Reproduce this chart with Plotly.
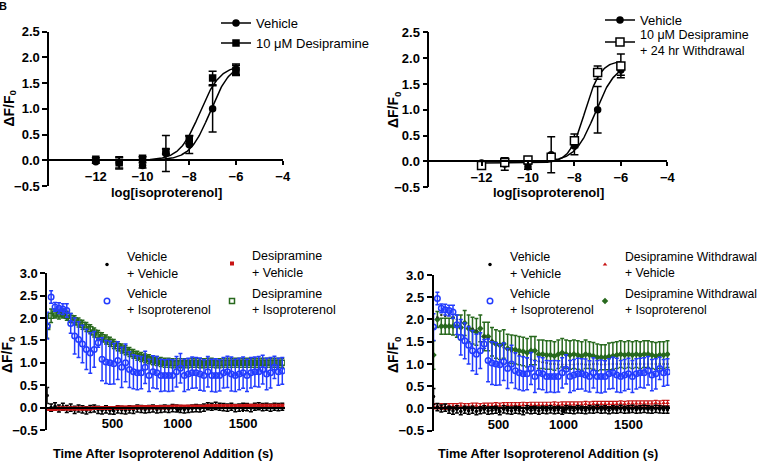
import plotly.graph_objects as go
import numpy as np

W, H = 763, 463
FONT = "Liberation Sans, Arial, sans-serif"

# ---------------- dose-response data (top panels) ----------------
conc = [-12, -11, -10, -9, -8, -7, -6]
veh_resp = [-0.03, -0.05, -0.10, 0.13, 0.30, 1.00, 1.77]
veh_err = [0.03, 0.12, 0.05, 0.35, 0.17, 0.45, 0.10]
desi_resp = [0.02, -0.05, 0.04, 0.17, 0.40, 1.60, 1.75]
desi_err = [0.03, 0.10, 0.03, 0.05, 0.08, 0.13, 0.10]
wd_resp = [-0.08, -0.02, 0.03, 0.08, 0.40, 1.72, 1.85]
wd_err = [0.04, 0.03, 0.03, 0.05, 0.13, 0.13, 0.23]

# fitted sigmoid parameters: bottom, top, logEC50, hill
veh_fit = (0.0, 1.90, -7.10, 1.0)
desi_fit = (0.0, 1.85, -7.55, 1.0)
wd_fit = (-0.03, 1.95, -7.55, 1.3)

# ---------------- time-course data (bottom panels) ----------------
time_s = list(range(0, 1801, 30))

veh_iso = [1.83, 2.47, 2.25, 2.22, 2.20, 2.17, 1.88, 1.60, 1.52, 1.42,
           1.30, 1.22, 1.30, 1.45, 1.08, 1.02, 1.00, 0.98, 1.05, 0.90,
           1.00, 0.85, 0.80, 0.78, 0.78, 0.90, 0.72, 0.80, 0.78, 0.72,
           0.72, 0.72, 0.72, 0.80, 0.88, 0.72, 0.75, 0.78, 0.78, 0.75,
           0.72, 0.80, 0.72, 0.72, 0.72, 0.78, 0.80, 0.75, 0.72, 0.75,
           0.78, 0.72, 0.78, 0.80, 0.80, 0.85, 0.75, 0.78, 0.90, 0.80,
           0.82]
veh_iso_err = [0.30, 0.14, 0.10, 0.12, 0.12, 0.15, 0.22, 0.40, 0.40, 0.42,
               0.45, 0.45, 0.40, 0.10, 0.48, 0.48, 0.48, 0.45, 0.42, 0.45,
               0.42, 0.40, 0.38, 0.38, 0.36, 0.36, 0.36, 0.36, 0.36, 0.36,
               0.35, 0.36, 0.35, 0.34, 0.33, 0.36, 0.35, 0.35, 0.34, 0.36,
               0.35, 0.34, 0.36, 0.37, 0.35, 0.34, 0.35, 0.38, 0.36, 0.35,
               0.35, 0.36, 0.34, 0.33, 0.34, 0.32, 0.35, 0.34, 0.25, 0.30,
               0.30]

desi_iso = [1.80, 2.05, 2.10, 2.08, 2.10, 2.05, 2.00, 1.95, 1.90, 1.85,
            1.80, 1.75, 1.68, 1.62, 1.57, 1.52, 1.47, 1.42, 1.37, 1.32,
            1.28, 1.24, 1.20, 1.16, 1.13, 1.10, 1.08, 1.06, 1.04, 1.02,
            1.00, 1.00, 0.99, 0.99, 0.99, 0.99, 0.99, 1.00, 1.00, 0.99,
            0.99, 1.00, 1.00, 0.99, 0.99, 1.00, 1.00, 1.00, 1.00, 1.00,
            1.00, 1.00, 1.00, 1.00, 1.00, 1.00, 1.00, 1.00, 1.00, 1.00,
            1.00]
desi_iso_err = [0.25, 0.15] + [0.10] * 59

veh_veh_c = [0.27, 0.00, 0.03, -0.02, 0.02, -0.03, 0.00, -0.05, -0.02, -0.04,
             -0.06, -0.03, -0.02, -0.05, -0.06, -0.04, -0.06, -0.07, -0.04, -0.05,
             -0.06, -0.04, -0.05, -0.02, -0.03, -0.04, -0.03, -0.02, -0.04, -0.03,
             -0.02, -0.03, -0.01, -0.02, -0.03, -0.04, -0.03, -0.02, -0.01, -0.02,
             0.00, 0.03, 0.02, 0.04, 0.02, 0.01, 0.00, 0.02, -0.01, 0.00,
             0.02, 0.01, -0.01, 0.02, 0.03, 0.01, 0.02, 0.00, 0.02, 0.01,
             0.02]
veh_veh_d = [0.27, 0.03, 0.00, 0.02, -0.03, -0.05, -0.02, -0.06, -0.03, -0.05,
             -0.03, -0.06, -0.04, -0.02, -0.05, -0.04, -0.03, -0.06, -0.02, -0.04,
             -0.05, -0.03, -0.04, -0.06, -0.02, -0.04, -0.03, -0.05, -0.03, -0.04,
             -0.02, -0.04, -0.03, -0.05, -0.02, -0.03, -0.04, -0.02, -0.03, -0.04,
             -0.02, -0.03, -0.01, -0.03, -0.02, -0.04, -0.02, -0.03, -0.01, -0.03,
             -0.02, -0.01, -0.03, -0.02, -0.01, -0.02, -0.03, -0.01, -0.02, -0.03,
             -0.03]
veh_veh_err = [0.18] + [0.08] * 60

desi_veh = [-0.03, -0.03, -0.03, -0.02, -0.02, -0.02, -0.02, -0.02, -0.02, -0.02,
            -0.02, -0.02, -0.01, -0.01, -0.01, -0.01, -0.01, -0.01, 0.00, 0.00,
            0.00, 0.00, 0.00, 0.01, 0.01, 0.01, 0.01, 0.01, 0.01, 0.01,
            0.01, 0.01, 0.02, 0.02, 0.02, 0.02, 0.02, 0.02, 0.02, 0.02,
            0.02, 0.03, 0.03, 0.03, 0.03, 0.03, 0.03, 0.03, 0.03, 0.03,
            0.03, 0.04, 0.04, 0.04, 0.04, 0.04, 0.04, 0.04, 0.04, 0.04,
            0.04]
desi_veh_err = [0.03] * 61

wd_veh = [0.05, 0.05, 0.05, 0.04, 0.05, 0.05, 0.05, 0.06, 0.05, 0.05,
          0.06, 0.06, 0.05, 0.06, 0.06, 0.06, 0.07, 0.06, 0.07, 0.07,
          0.07, 0.07, 0.07, 0.08, 0.07, 0.08, 0.08, 0.08, 0.08, 0.08,
          0.08, 0.09, 0.08, 0.09, 0.09, 0.09, 0.09, 0.09, 0.09, 0.10,
          0.09, 0.10, 0.10, 0.10, 0.10, 0.10, 0.10, 0.10, 0.11, 0.10,
          0.11, 0.11, 0.11, 0.11, 0.11, 0.11, 0.11, 0.12, 0.11, 0.12,
          0.12]
wd_veh_err = [0.06] * 61

wd_iso = [1.20, 2.00, 1.85, 1.85, 1.85, 1.85, 1.85, 1.82, 1.92, 1.80,
          1.75, 1.72, 1.80, 1.62, 1.62, 1.50, 1.45, 1.42, 1.45, 1.35,
          1.33, 1.32, 1.30, 1.28, 1.25, 1.30, 1.30, 1.22, 1.22, 1.20,
          1.20, 1.18, 1.22, 1.25, 1.22, 1.20, 1.22, 1.20, 1.18, 1.22,
          1.20, 1.18, 1.15, 1.15, 1.15, 1.17, 1.18, 1.20, 1.22, 1.20,
          1.22, 1.20, 1.22, 1.20, 1.22, 1.22, 1.20, 1.18, 1.20, 1.20,
          1.22]
wd_iso_err = [0.32, 0.18, 0.18, 0.18, 0.18, 0.20, 0.25, 0.28, 0.28, 0.30,
              0.30, 0.30, 0.30, 0.32, 0.32, 0.32, 0.32, 0.32, 0.32, 0.32,
              0.32, 0.32, 0.32, 0.32, 0.32, 0.32, 0.32, 0.32, 0.32, 0.32,
              0.32, 0.32, 0.32, 0.32, 0.32, 0.32, 0.32, 0.32, 0.32, 0.32,
              0.30, 0.30, 0.30, 0.28, 0.28, 0.30, 0.30, 0.30, 0.30, 0.30,
              0.30, 0.30, 0.30, 0.30, 0.30, 0.30, 0.30, 0.30, 0.30, 0.30,
              0.30]

BLUE = "rgb(35,60,255)"
GREEN = "rgb(40,105,30)"
RED = "rgb(200,20,20)"
BLACK = "black"

# ---------------- panel geometry (pixels) ----------------
panels = {
    "tl": dict(px=(49.1, 282.7), py=(31.7, 186.0), xr=[-14, -4], yr=[-0.5, 2.5]),
    "tr": dict(px=(429.3, 667.3), py=(32.3, 187.3), xr=[-14.25, -4], yr=[-0.5, 2.5]),
    "bl": dict(px=(47.2, 284.9), py=(273.3, 430.0), xr=[0, 1820], yr=[-0.5, 3.0]),
    "br": dict(px=(433.5, 670.1), py=(275.0, 430.7), xr=[0, 1820], yr=[-0.5, 3.0]),
}
axis_ids = {"tl": ("x", "y"), "tr": ("x2", "y2"), "bl": ("x3", "y3"), "br": ("x4", "y4")}


def sigmoid(p, x):
    b, t, ec, h = p
    return b + (t - b) / (1 + 10 ** ((ec - x) * h))


fig = go.Figure()


def err(arr, color, th=1.5, w=3):
    return dict(type="data", array=arr, visible=True, color=color, thickness=th, width=w)


# ---------- top-left ----------
xc = np.linspace(-12, -6, 200)
fig.add_trace(go.Scatter(x=xc, y=sigmoid(veh_fit, xc), mode="lines", line=dict(color=BLACK, width=1.5),
                         xaxis="x", yaxis="y", showlegend=False, hoverinfo="skip"))
fig.add_trace(go.Scatter(x=xc, y=sigmoid(desi_fit, xc), mode="lines", line=dict(color=BLACK, width=1.5),
                         xaxis="x", yaxis="y", showlegend=False, hoverinfo="skip"))
fig.add_trace(go.Scatter(x=conc, y=veh_resp, mode="markers", error_y=err(veh_err, BLACK, 1.5, 4),
                         marker=dict(symbol="circle", size=7.5, color=BLACK), xaxis="x", yaxis="y", showlegend=False))
fig.add_trace(go.Scatter(x=conc, y=desi_resp, mode="markers", error_y=err(desi_err, BLACK, 1.5, 4),
                         marker=dict(symbol="square", size=7.5, color=BLACK), xaxis="x", yaxis="y", showlegend=False))
fig.add_trace(go.Scatter(x=[None], y=[None], mode="lines+markers", name="Vehicle",
                         line=dict(color=BLACK, width=1.5), marker=dict(symbol="circle", size=7.5, color=BLACK),
                         xaxis="x", yaxis="y", legend="legend"))
fig.add_trace(go.Scatter(x=[None], y=[None], mode="lines+markers", name="10 μM Desipramine",
                         line=dict(color=BLACK, width=1.5), marker=dict(symbol="square", size=7.5, color=BLACK),
                         xaxis="x", yaxis="y", legend="legend2"))

# ---------- top-right ----------
fig.add_trace(go.Scatter(x=xc, y=sigmoid(veh_fit, xc), mode="lines", line=dict(color=BLACK, width=1.5),
                         xaxis="x2", yaxis="y2", showlegend=False, hoverinfo="skip"))
fig.add_trace(go.Scatter(x=xc, y=sigmoid(wd_fit, xc), mode="lines", line=dict(color=BLACK, width=1.5),
                         xaxis="x2", yaxis="y2", showlegend=False, hoverinfo="skip"))
fig.add_trace(go.Scatter(x=conc, y=veh_resp, mode="markers", error_y=err(veh_err, BLACK, 1.5, 4),
                         marker=dict(symbol="circle", size=7.5, color=BLACK), xaxis="x2", yaxis="y2", showlegend=False))
fig.add_trace(go.Scatter(x=conc, y=wd_resp, mode="markers", error_y=err(wd_err, BLACK, 1.5, 4),
                         marker=dict(symbol="square", size=8, color="white", line=dict(color=BLACK, width=1.5)),
                         xaxis="x2", yaxis="y2", showlegend=False))
fig.add_trace(go.Scatter(x=[None], y=[None], mode="lines+markers", name="Vehicle",
                         line=dict(color=BLACK, width=1.5), marker=dict(symbol="circle", size=7.5, color=BLACK),
                         xaxis="x2", yaxis="y2", legend="legend3"))
fig.add_trace(go.Scatter(x=[None], y=[None], mode="lines+markers", name="10 μM Desipramine<br>+ 24 hr Withdrawal",
                         line=dict(color=BLACK, width=1.5),
                         marker=dict(symbol="square", size=8, color="white", line=dict(color=BLACK, width=1.5)),
                         xaxis="x2", yaxis="y2", legend="legend4"))

# ---------- bottom-left ----------
fig.add_trace(go.Scatter(x=time_s, y=desi_iso, mode="markers", name="Desipramine<br>+ Isoproterenol",
                         error_y=err(desi_iso_err, GREEN, 1.5, 2),
                         marker=dict(symbol="square-open", size=5, color=GREEN, line=dict(width=1.5)),
                         xaxis="x3", yaxis="y3", legend="legend8"))
fig.add_trace(go.Scatter(x=time_s, y=veh_iso, mode="markers", name="Vehicle<br>+ Isoproterenol",
                         error_y=err(veh_iso_err, BLUE, 1.5, 2),
                         marker=dict(symbol="circle-open", size=5.5, color=BLUE, line=dict(width=1.5)),
                         xaxis="x3", yaxis="y3", legend="legend6"))
fig.add_trace(go.Scatter(x=time_s, y=veh_veh_c, mode="markers", name="Vehicle<br>+ Vehicle",
                         error_y=err(veh_veh_err, BLACK, 1.5, 2),
                         marker=dict(symbol="circle", size=3.5, color=BLACK),
                         xaxis="x3", yaxis="y3", legend="legend5"))
fig.add_trace(go.Scatter(x=time_s, y=desi_veh, mode="markers", name="Desipramine<br>+ Vehicle",
                         error_y=err(desi_veh_err, RED, 1.2, 2),
                         marker=dict(symbol="square", size=4, color=RED),
                         xaxis="x3", yaxis="y3", legend="legend7"))

# ---------- bottom-right ----------
fig.add_trace(go.Scatter(x=time_s, y=wd_iso, mode="markers", name="Desipramine Withdrawal<br>+ Isoproterenol",
                         error_y=err(wd_iso_err, GREEN, 1.5, 2),
                         marker=dict(symbol="diamond", size=5, color=GREEN),
                         xaxis="x4", yaxis="y4", legend="legend12"))
fig.add_trace(go.Scatter(x=time_s, y=desi_iso, mode="markers", showlegend=False,
                         marker=dict(symbol="circle", size=2.5, color="rgb(40,60,40)"),
                         xaxis="x4", yaxis="y4", hoverinfo="skip"))
fig.add_trace(go.Scatter(x=time_s, y=veh_iso, mode="markers", name="Vehicle<br>+ Isoproterenol",
                         error_y=err(veh_iso_err, BLUE, 1.5, 2),
                         marker=dict(symbol="circle-open", size=5.5, color=BLUE, line=dict(width=1.5)),
                         xaxis="x4", yaxis="y4", legend="legend10"))
fig.add_trace(go.Scatter(x=time_s, y=wd_veh, mode="markers", name="Desipramine Withdrawal<br>+ Vehicle",
                         error_y=err(wd_veh_err, RED, 1.2, 2),
                         marker=dict(symbol="triangle-up", size=4, color=RED),
                         xaxis="x4", yaxis="y4", legend="legend11"))
fig.add_trace(go.Scatter(x=time_s, y=veh_veh_d, mode="markers", name="Vehicle<br>+ Vehicle",
                         error_y=err(veh_veh_err, BLACK, 1.5, 2),
                         marker=dict(symbol="circle", size=3.5, color=BLACK),
                         xaxis="x4", yaxis="y4", legend="legend9"))

# ---------------- axes ----------------
tickfont = dict(family=FONT, size=13, color="black", weight="bold")
layout_axes = {}
for key, p in panels.items():
    xa, ya = axis_ids[key]
    xdom = [p["px"][0] / W, p["px"][1] / W]
    ydom = [1 - p["py"][1] / H, 1 - p["py"][0] / H]
    ymin, ymax = p["yr"]
    zero_pos = ydom[0] + (0 - ymin) / (ymax - ymin) * (ydom[1] - ydom[0])
    xname = "xaxis" if xa == "x" else "xaxis" + xa[1:]
    yname = "yaxis" if ya == "y" else "yaxis" + ya[1:]
    if key in ("tl", "tr"):
        xt = [-12, -10, -8, -6, -4]
    else:
        xt = [500, 1000, 1500]
    layout_axes[xname] = dict(domain=xdom, range=p["xr"], anchor="free", position=zero_pos,
                              showline=True, linecolor="black", linewidth=1.5,
                              ticks="outside", ticklen=4, tickwidth=1.5, tickcolor="black",
                              tickvals=xt, tickfont=tickfont, showgrid=False, zeroline=False)
    layout_axes[yname] = dict(domain=ydom, range=p["yr"], anchor=xa,
                              showline=True, linecolor="black", linewidth=1.5,
                              ticks="outside", ticklen=5, tickwidth=1.5, tickcolor="black",
                              dtick=0.5, tick0=0, tickformat=".1f", tickfont=tickfont,
                              showgrid=False, zeroline=False)


# legend placement: left edge (px) and desired item centre (px)
def leg(xpx, center_px, lines=1, size=12.5):
    h = max(size * 1.3 * lines, 16) + 3
    top = center_px - 5 - h / 2
    return dict(x=xpx / W, y=1 - top / H, xanchor="left", yanchor="top",
                font=dict(family=FONT, size=size, color="black"),
                bgcolor="rgba(0,0,0,0)", borderwidth=0, tracegroupgap=0)


legends = dict(
    legend=leg(216, 23, 1, 13),
    legend2=leg(216, 43, 1, 13),
    legend3=leg(600, 20, 1, 13),
    legend4=leg(600, 42, 2, 12.5),
    legend5=leg(87, 264.5, 2),
    legend6=leg(87, 301, 2),
    legend7=leg(212, 263.5, 2),
    legend8=leg(212, 301, 2),
    legend9=leg(470, 264.5, 2),
    legend10=leg(470, 301, 2),
    legend11=leg(585, 264.5, 2, 12.2),
    legend12=leg(585, 301, 2, 12.2),
)

annotations = []


def ann(text, xpx, ypx, angle=0, size=13, yanchor="middle"):
    annotations.append(dict(text=text, x=xpx / W, y=1 - ypx / H, xref="paper", yref="paper",
                            showarrow=False, textangle=angle, xanchor="center", yanchor=yanchor,
                            font=dict(family=FONT, size=size, color="black", weight="bold")))


ann("ΔF/F<sub>0</sub>", 9.5, 108, -90, 14)
ann("ΔF/F<sub>0</sub>", 394, 110, -90, 14)
ann("ΔF/F<sub>0</sub>", 8, 355, -90, 14)
ann("ΔF/F<sub>0</sub>", 394, 355, -90, 14)
ann("log[isoproterenol]", 166, 192, 0, 13)
ann("log[isoproterenol]", 548, 192, 0, 13)
ann("Time After Isoproterenol Addition (s)", 163, 462.5, 0, 12.7, "bottom")
ann("Time After Isoproterenol Addition (s)", 548, 462.5, 0, 12.7, "bottom")
ann("B", 3, 6, 0, 11)

fig.update_layout(
    width=W, height=H, margin=dict(l=0, r=0, t=0, b=0, autoexpand=False),
    paper_bgcolor="white", plot_bgcolor="white",
    font=dict(family=FONT, color="black"),
    annotations=annotations,
    **legends,
    **layout_axes,
)

fig.write_html("out.html", config={"displayModeBar": False},
               post_script="document.body.style.margin='0px';document.body.style.overflow='hidden';")
